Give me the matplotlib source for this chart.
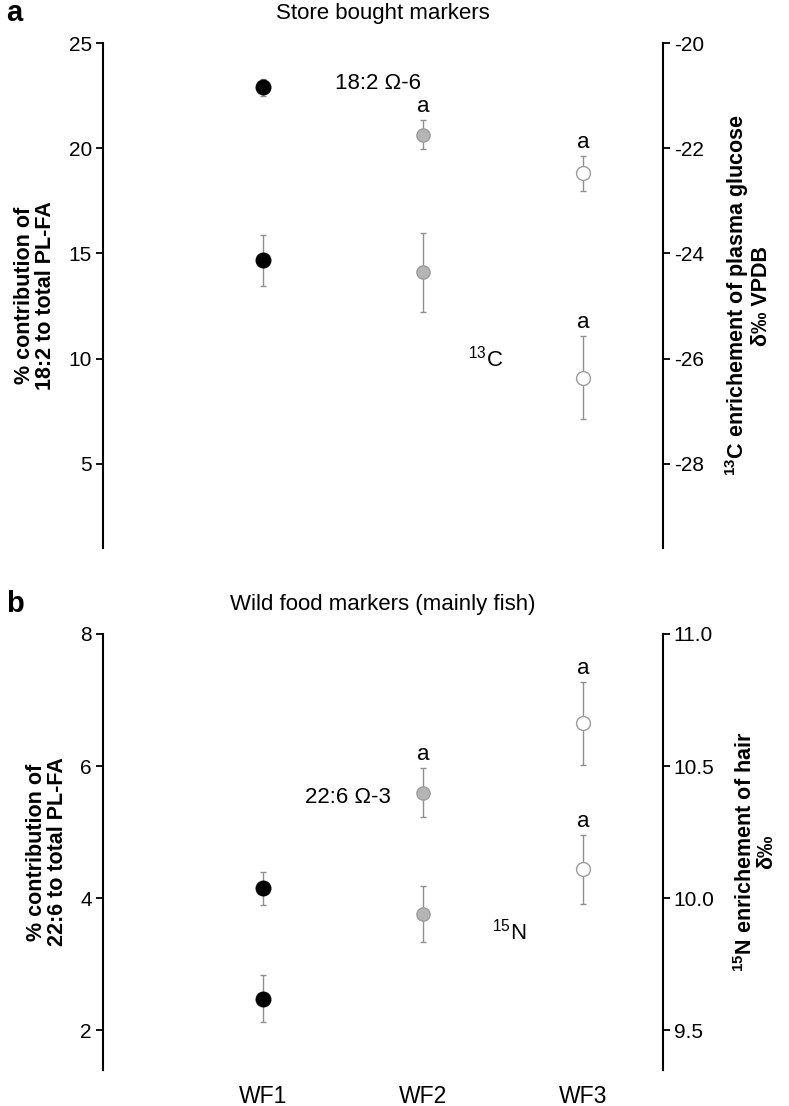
import numpy as np
import matplotlib
matplotlib.use("Agg")
import matplotlib.pyplot as plt

plt.rcParams['font.family'] = ['Liberation Sans', 'DejaVu Sans']
plt.rcParams['mathtext.fontset'] = 'custom'
plt.rcParams['mathtext.rm'] = 'Liberation Sans'
plt.rcParams['mathtext.bf'] = 'Liberation Sans:bold'

groups = ["WF1", "WF2", "WF3"]

# panel a: store bought markers
fa182_mean = [22.9, 20.65, 18.8]
fa182_err = [0.4, 0.7, 0.85]
c13_mean = [-24.13, -24.36, -26.36]
c13_err = [0.49, 0.75, 0.79]
sig_a_182 = ["", "a", "a"]
sig_a_c13 = ["", "", "a"]

# panel b: wild food markers
fa226_mean = [4.15, 5.6, 6.65]
fa226_err = [0.25, 0.37, 0.63]
n15_mean = [9.62, 9.94, 10.11]
n15_err = [0.09, 0.107, 0.13]
sig_b_226 = ["", "a", "a"]
sig_b_n15 = ["", "", "a"]

FACE = ["black", "#b5b5b5", "white"]
EDGE = ["black", "#9c9c9c", "#9c9c9c"]
MSIZE = [10.5, 9.5, 10]
ERR_C = "#8f8f8f"
TXT = 16

fig = plt.figure(figsize=(7.89, 11.06), dpi=100)


def styleAxes(ax, ax2):
  for a in (ax, ax2):
    a.spines['top'].set_visible(False)
    a.spines['bottom'].set_visible(False)
    a.tick_params(axis='y', labelsize=15, length=5, width=1.3, pad=3)
    a.tick_params(axis='x', length=0)
  ax.spines['right'].set_visible(False)
  ax2.spines['left'].set_visible(False)
  ax.spines['left'].set_linewidth(1.5)
  ax2.spines['right'].set_linewidth(1.5)


def drawSeries(ax, means, errs, sigs):
  xs = np.arange(1, len(means) + 1)
  for i, (x, m, e) in enumerate(zip(xs, means, errs)):
    ax.errorbar(x, m, yerr=e, fmt='o', color=ERR_C, ecolor=ERR_C,
                elinewidth=1, capsize=2, capthick=1, markersize=MSIZE[i],
                markerfacecolor=FACE[i], markeredgecolor=EDGE[i],
                markeredgewidth=1, zorder=3)
    if sigs[i]:
      ax.annotate(sigs[i], (x, m + e), xytext=(0, 2),
                  textcoords='offset points', ha='center', va='bottom',
                  fontsize=TXT)


def panel(rect, title, letter, left_means, left_errs, left_sigs, left_lim,
          left_ticks, left_label, right_means, right_errs, right_sigs,
          right_lim, right_ticks, right_fmt, right_label):
  ax = fig.add_axes(rect)
  ax2 = ax.twinx()
  styleAxes(ax, ax2)
  ax.set_xlim(0, 3.5)
  ax.set_ylim(*left_lim)
  ax2.set_ylim(*right_lim)
  ax.set_yticks(left_ticks)
  ax2.set_yticks(right_ticks)
  ax2.set_yticklabels([right_fmt % t for t in right_ticks])
  ax.set_xticks([1, 2, 3])
  ax.set_xticklabels([])
  drawSeries(ax, left_means, left_errs, left_sigs)
  drawSeries(ax2, right_means, right_errs, right_sigs)
  ax.set_ylabel(left_label, fontsize=15.5, fontweight='bold', labelpad=9,
                linespacing=1.0)
  ax2.set_ylabel(right_label, fontsize=15.5, fontweight='bold', labelpad=14,
                 linespacing=0.95)
  top = rect[1] + rect[3]
  fig.text(0.485, top + 0.027, title, ha='center', va='center', fontsize=TXT)
  fig.text(0.008, top + 0.027, letter, ha='left', va='center', fontsize=21,
           fontweight='bold')
  return ax, ax2


ax_a, ax_a2 = panel(
  [0.1305, 0.5045, 0.7095, 0.4566], "Store bought markers", "a",
  fa182_mean, fa182_err, sig_a_182, (1, 25), [5, 10, 15, 20, 25],
  "% contribution of\n18:2 to total PL-FA",
  c13_mean, c13_err, sig_a_c13, (-29.6, -20), [-28, -26, -24, -22, -20],
  "%d", "$^{\\mathbf{13}}$C enrichement of plasma glucose\nδ‰ VPDB")
ax_a.text(1.72, 23.1, "18:2 Ω-6", ha='center', va='center', fontsize=TXT)
ax_a.text(2.39, 10.0, "$^{13}$C", ha='center', va='center', fontsize=TXT)

ax_b, ax_b2 = panel(
  [0.1305, 0.0325, 0.7095, 0.3943], "Wild food markers (mainly fish)", "b",
  fa226_mean, fa226_err, sig_b_226, (1.4, 8), [2, 4, 6, 8],
  "% contribution of\n22:6 to total PL-FA",
  n15_mean, n15_err, sig_b_n15, (9.35, 11.0), [9.5, 10.0, 10.5, 11.0],
  "%.1f", "$^{\\mathbf{15}}$N enrichement of hair\nδ‰")
ax_b.text(1.80, 5.53, "22:6 Ω-3", ha='right', va='center', fontsize=TXT)
ax_b.text(2.54, 3.5, "$^{15}$N", ha='center', va='center', fontsize=TXT)

for x, g in zip([1, 2, 3], groups):
  ax_b.text(x, 1.4 - 0.22, g, ha='center', va='top', fontsize=16.5,
            clip_on=False)

fig.savefig("out.png", dpi=100)
